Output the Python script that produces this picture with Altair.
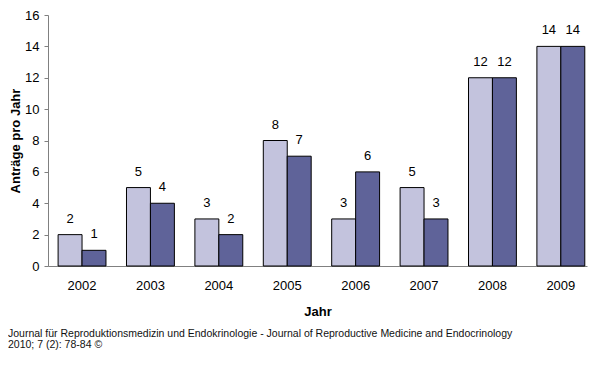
import altair as alt
import pandas as pd

years = ["2002", "2003", "2004", "2005", "2006", "2007", "2008", "2009"]
series_names = ["Serie 1", "Serie 2"]
values_1 = [2, 5, 3, 8, 3, 5, 12, 14]
values_2 = [1, 4, 2, 7, 6, 3, 12, 14]
colors = ["#C3C3DD", "#5F6399"]
footer = [
    "Journal für Reproduktionsmedizin und Endokrinologie - Journal of Reproductive Medicine and Endocrinology",
    "2010; 7 (2): 78-84 ©",
]

rows = []
for y, a, b in zip(years, values_1, values_2):
    rows.append({"Jahr": y, "Serie": series_names[0], "Wert": a})
    rows.append({"Jahr": y, "Serie": series_names[1], "Wert": b})
df = pd.DataFrame(rows)

FONT = "Liberation Sans"

x = alt.X(
    "Jahr:N",
    sort=years,
    scale=alt.Scale(paddingInner=0.3, paddingOuter=0.09, align=0.82),
    axis=alt.Axis(
        title="Jahr",
        labelAngle=0,
        ticks=False,
        labelPadding=13,
        labelFontSize=13,
        labelColor="black",
        titleFontSize=13,
        titleFontWeight="bold",
        titleColor="black",
        titlePadding=13,
        domainColor="#808080",
        labelFont=FONT,
        titleFont=FONT,
    ),
)
y = alt.Y(
    "Wert:Q",
    scale=alt.Scale(domain=[0, 16]),
    axis=alt.Axis(
        title="Anträge pro Jahr",
        values=[0, 2, 4, 6, 8, 10, 12, 14, 16],
        grid=False,
        tickSize=4,
        tickColor="#808080",
        domainColor="#808080",
        labelPadding=5,
        labelFontSize=13,
        labelColor="black",
        titleFontSize=13,
        titleFontWeight="bold",
        titleColor="black",
        titlePadding=2,
        labelFont=FONT,
        titleFont=FONT,
    ),
)
xoff = alt.XOffset("Serie:N", sort=series_names)
color = alt.Color(
    "Serie:N",
    sort=series_names,
    scale=alt.Scale(domain=series_names, range=colors),
    legend=None,
)

base = alt.Chart(df)
bars = base.mark_bar(stroke="black", strokeWidth=1).encode(
    x=x, y=y, xOffset=xoff, color=color
)
labels = base.mark_text(
    baseline="middle", dy=-16, fontSize=13, font=FONT, color="black"
).encode(x=x, y=y, xOffset=xoff, text="Wert:Q")

foot_df = pd.DataFrame({"t": footer})
foot1 = alt.Chart(foot_df.iloc[[0]]).mark_text(
    align="left", baseline="alphabetic", fontSize=10.5, font=FONT, color="#111111"
).encode(text="t:N", x=alt.value(-40), y=alt.value(322))
foot2 = alt.Chart(foot_df.iloc[[1]]).mark_text(
    align="left", baseline="alphabetic", fontSize=10.5, font=FONT, color="#111111"
).encode(text="t:N", x=alt.value(-40), y=alt.value(333))

chart = (
    alt.layer(bars, labels, foot1, foot2)
    .properties(
        width=539,
        height=251,
        autosize=alt.AutoSizeParams(type="none"),
        padding={"left": 40, "top": 7, "right": 4, "bottom": 96},
    )
    .configure_view(stroke=None)
)

chart.save("out.html", embed_options={"renderer": "svg", "actions": False})
